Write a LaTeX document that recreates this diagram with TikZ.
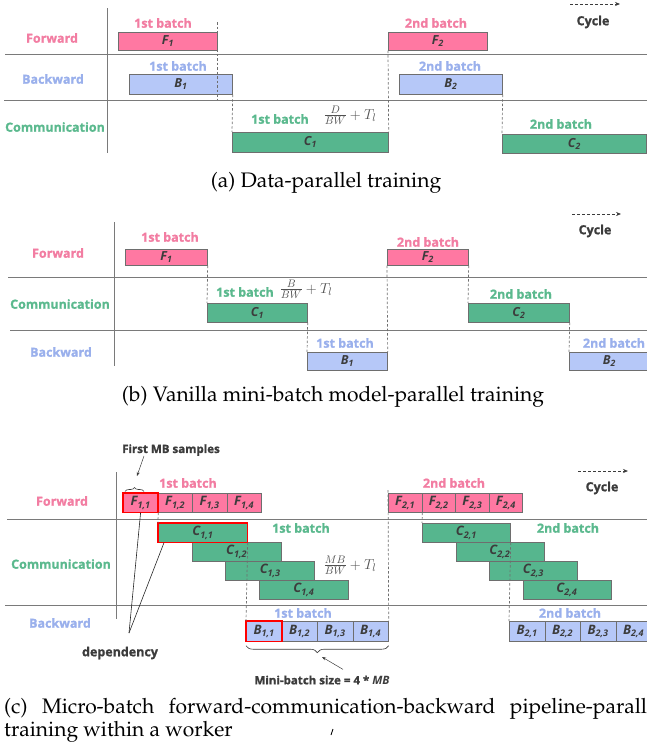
\documentclass[tikz,border=0pt]{standalone}
\usepackage{fontspec}
\setsansfont{Open Sans}[BoldFeatures={FakeBold=1.2}]
\usepackage{tikz}
\usetikzlibrary{arrows.meta}
\usetikzlibrary{decorations.pathreplacing}
\definecolor{fwdfill}{HTML}{FF78A2}
\definecolor{bwdfill}{HTML}{B6C8F8}
\definecolor{comfill}{HTML}{56B68E}
\definecolor{fwdtext}{HTML}{F27DA2}
\definecolor{bwdtext}{HTML}{9AB0EC}
\definecolor{comtext}{HTML}{5BB98E}
\definecolor{boxgray}{HTML}{6E6E6E}
\definecolor{rulegray}{HTML}{7A7A7A}
\definecolor{inkgray}{HTML}{3C3C3C}
\newcommand{\blk}[2]{#1\textsubscript{#2}}
\newcommand{\capfont}{\fontencoding{OT1}\fontfamily{ppl}\selectfont}
\tikzset{
lane/.style={rulegray, line width=0.8pt},
guide/.style={boxgray, line width=0.7pt, dash pattern=on 2.5pt off 2pt},
task/.style={draw=boxgray, line width=0.7pt, anchor=north west, inner sep=0pt,
  text=inkgray, font=\sffamily\bfseries\itshape\fontsize{12.5}{12.5}\selectfont},
sz/.style 2 args={minimum width=#1pt, minimum height=#2pt},
fwd/.style={task, fill=fwdfill},
bwd/.style={task, fill=bwdfill},
com/.style={task, fill=comfill},
micro/.style={font=\sffamily\bfseries\itshape\fontsize{13}{13}\selectfont},
sel/.style={draw=red, line width=1.5pt},
lbl/.style={inner sep=0pt, font=\sffamily\bfseries\fontsize{12.5}{12.5}\selectfont},
fwdlbl/.style={lbl, text=fwdtext},
bwdlbl/.style={lbl, text=bwdtext},
comlbl/.style={lbl, text=comtext},
note/.style={inner sep=0pt, text=inkgray, font=\sffamily\bfseries\fontsize{11.5}{11.5}\selectfont},
cost/.style={inner sep=0pt, text=inkgray!90, font=\fontsize{15}{15}\selectfont},
cyclearrow/.style={inkgray, line width=0.7pt, dash pattern=on 3pt off 2pt, -{Stealth[length=5pt,width=4pt]}},
pointer/.style={inkgray, line width=0.5pt, -{Stealth[length=4pt,width=3pt]}},
depline/.style={black!85, line width=0.6pt},
bracemark/.style={inkgray, line width=0.6pt, decorate, decoration={brace, amplitude=#1}},
captxt/.style={inner sep=0pt, text=black, font=\capfont\fontsize{21}{23}\selectfont},
}

\begin{document}
\begin{tikzpicture}[x=1pt, y=-1pt]
\useasboundingbox (0,0) rectangle (647,755);

% (a) data-parallel
\draw[lane] (107,8) -- (107,153);
\draw[lane] (5,54) -- (647,54);
\draw[lane] (4,100) -- (647,100);
\node[fwdlbl] (aFwd) at (52,38) {Forward};
\node[bwdlbl] (aBwd) at (53,79) {Backward};
\node[comlbl] (aCom) at (55,127) {Communication};
\node[fwd, sz={99}{18}] (aF1) at (118,32) {\blk{F}{1}};
\node[fwd, sz={99}{18}] (aF2) at (388,32) {\blk{F}{2}};
\node[bwd, sz={103}{20}] (aB1) at (129,74) {\blk{B}{1}};
\node[bwd, sz={103}{20}] (aB2) at (399,74) {\blk{B}{2}};
\node[com, sz={156}{20}] (aC1) at (232,132) {\blk{C}{1}};
\node[com, sz={144}{19}] (aC2) at (502,134) {\blk{C}{2}};
\draw[guide] ([yshift=10pt]aF1.north east) -- (aF1.north east |- 0,100);
\draw[guide] (aB1.south east) -- (aC1.north west);
\draw[guide] (aF2.south west) -- (aC1.north east);
\draw[guide] (aB2.south east) -- (aC2.north west);
\node[fwdlbl] (aF1lbl) at (163,23) {1st batch};
\node[fwdlbl] (aF2lbl) at (436,23) {2nd batch};
\node[bwdlbl] (aB1lbl) at (178,66) {1st batch};
\node[bwdlbl] (aB2lbl) at (450,66) {2nd batch};
\node[comlbl] (aC1lbl) at (280,119) {1st batch};
\node[comlbl] (aC2lbl) at (561,124) {2nd batch};
\node[cost] (aCost) at (350,115) {$\frac{D}{BW}+T_l$};
\coordinate (aCyc0) at (570,4);
\coordinate (aCyc1) at (620,4);
\draw[cyclearrow] (aCyc0) -- (aCyc1);
\node[lbl, text=inkgray] (aCycle) at (593,22) {Cycle};
\node[captxt] (aCap) at (326,183) {(a) Data-parallel training};

% (b) vanilla model-parallel
\draw[lane] (114,222) -- (114,366);
\draw[lane] (8,277) -- (647,277);
\draw[lane] (10,330) -- (647,330);
\node[fwdlbl] (bFwd) at (58,253) {Forward};
\node[comlbl] (bCom) at (60,304) {Communication};
\node[bwdlbl] (bBwd) at (61,352) {Backward};
\node[fwd, sz={82}{16}] (bF1) at (125,249) {\blk{F}{1}};
\node[com, sz={100}{19}] (bC1) at (207,303) {\blk{C}{1}};
\node[bwd, sz={80}{18}] (bB1) at (307,352) {\blk{B}{1}};
\node[fwd, sz={81}{16}] (bF2) at (387,249) {\blk{F}{2}};
\node[com, sz={101}{19}] (bC2) at (468,303) {\blk{C}{2}};
\node[bwd, sz={80}{18}] (bB2) at (569,352) {\blk{B}{2}};
\draw[guide] (bF1.south east) -- (bC1.north west);
\draw[guide] (bC1.south east) -- (bB1.north west);
\draw[guide] (bF2.south west) -- (bB1.north east);
\draw[guide] (bF2.south east) -- (bC2.north west);
\draw[guide] (bC2.south east) -- (bB2.north west);
\node[fwdlbl] (bF1lbl) at (170,237) {1st batch};
\node[fwdlbl] (bF2lbl) at (428,242) {2nd batch};
\node[comlbl] (bC1lbl) at (245,292) {1st batch};
\node[comlbl] (bC2lbl) at (521,294) {2nd batch};
\node[bwdlbl] (bB1lbl) at (345,343) {1st batch};
\node[bwdlbl] (bB2lbl) at (614,343) {2nd batch};
\node[cost] (bCost) at (306,289) {$\frac{B}{BW}+T_l$};
\coordinate (bCyc0) at (572,214);
\coordinate (bCyc1) at (621,214);
\draw[cyclearrow] (bCyc0) -- (bCyc1);
\node[lbl, text=inkgray] (bCycle) at (595,231) {Cycle};
\node[captxt] (bCap) at (333,397) {(b) Vanilla mini-batch model-parallel training};

% (c) micro-batch pipeline
\draw[lane] (116,472) -- (116,619);
\draw[lane] (7,519) -- (647,519);
\draw[lane] (5,605) -- (647,605);
\node[fwdlbl] (cFwd) at (62,501) {Forward};
\node[comlbl] (cCom) at (61,564) {Communication};
\node[bwdlbl] (cBwd) at (60,623) {Backward};
\foreach \i in {1,...,4}
{
  \node[fwd, micro, sz={34.5}{19}] (cF1\i) at ({123+34.5*(\i-1)},493) {\blk{F}{1,\i}};
  \node[fwd, micro, sz={33.6}{19}] (cF2\i) at ({388+33.6*(\i-1)},493) {\blk{F}{2,\i}};
  \node[com, micro, sz={89}{19}] (cC1\i) at ({158+33.7*(\i-1)},{523+19*(\i-1)}) {\blk{C}{1,\i}};
  \node[com, micro, sz={88}{19}] (cC2\i) at ({422+33.5*(\i-1)},{523+19*(\i-1)}) {\blk{C}{2,\i}};
  \node[bwd, micro, sz={35.5}{20}] (cB1\i) at ({246+35.5*(\i-1)},621) {\blk{B}{1,\i}};
  \node[bwd, micro, sz={35.5}{20}] (cB2\i) at ({509+35.5*(\i-1)},621) {\blk{B}{2,\i}};
}
% first samples in red
\draw[sel] (cF11.north west) rectangle (cF11.south east);
\draw[sel] (cC11.north west) rectangle (cC11.south east);
\draw[sel] (cB11.north west) rectangle (cB11.south east);
\draw[guide] (cF11.south east) -- (cC11.north west);
\draw[guide] (cC11.south east) -- (cB11.north west);
\draw[guide] ([yshift=3pt]cF21.north west) -- (cB14.north east);
\draw[guide] (cF21.south east) -- (cC21.north west);
\draw[guide] (cC21.south east) -- (cB21.north west);
\node[fwdlbl] (cF1lbl) at (188,483) {1st batch};
\node[fwdlbl] (cF2lbl) at (454,483) {2nd batch};
\node[comlbl] (cC1lbl) at (301,528) {1st batch};
\node[comlbl] (cC2lbl) at (568,528) {2nd batch};
\node[bwdlbl] (cB1lbl) at (303,613) {1st batch};
\node[bwdlbl] (cB2lbl) at (570,613) {2nd batch};
\node[cost] (cCost) at (350,565) {$\frac{MB}{BW}+T_l$};
\coordinate (cCyc0) at (578,471);
\coordinate (cCyc1) at (628,471);
\draw[cyclearrow] (cCyc0) -- (cCyc1);
\node[lbl, text=inkgray] (cCycle) at (602,488) {Cycle};
% annotations
\node[note] (cFirst) at (171,450) {First MB samples};
\coordinate (fmTip) at (137,476);
\draw[pointer] ([xshift=-27pt]cFirst.south) -- (fmTip);
\draw[bracemark=4pt] ([xshift=2pt,yshift=1.5pt]cF11.north west) -- ([xshift=21pt,yshift=1.5pt]cF11.north west);
\coordinate (depTip) at (129,633);
\draw[depline] (depTip) -- (cF11.south);
\draw[depline] (depTip) -- ([xshift=6pt]cC11.south west);
\node[lbl, text=inkgray] (cDep) at (120,653) {dependency};
\draw[bracemark=7pt] ([yshift=-4pt]cB14.south east) -- ([yshift=-4pt]cB11.south west);
\node[note] (cMB) at (322,680) {Mini-batch size = 4 * \textit{MB}};
\coordinate (mbTip) at (322,657);
\draw[pointer] ([xshift=21pt,yshift=6pt]cMB.north) -- (mbTip);
\node[captxt, anchor=base west] (cCap1) at (4,713) {\hbox to 659pt{(c)\hfill Micro-batch\hfill forward-communication-backward\hfill pipeline-parallel}};
\node[captxt, anchor=base west] (cCap2) at (4,736) {training within a worker};
\draw[black, line width=0.9pt] (331,735) -- (333,729);
\end{tikzpicture}
\end{document}
